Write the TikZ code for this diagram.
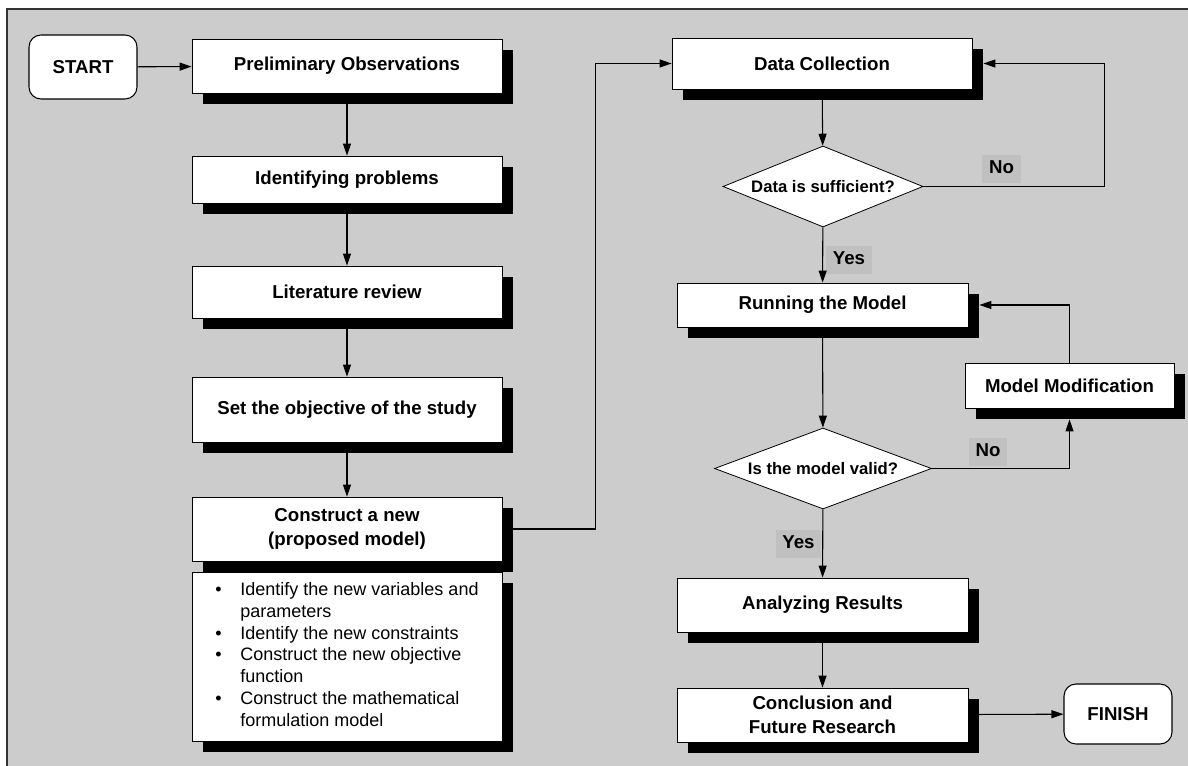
\documentclass[tikz,border=0pt]{standalone}
\usepackage{fontspec}
\setmainfont{Liberation Sans}
\usetikzlibrary{arrows.meta,shapes.geometric,shadows,calc}
\definecolor{fc_back}{RGB}{204, 204, 204}
\definecolor{fc_tag}{RGB}{192, 192, 192}
\tikzstyle{bx}=[rectangle,fill=white,draw=black,line width=0.6pt,
  minimum width=232.5pt,inner sep=3pt,align=center,
  font=\fontsize{14}{18}\selectfont\bfseries,
  drop shadow={shadow xshift=8.25pt,shadow yshift=-8.25pt,fill=black,opacity=1}]
\tikzstyle{ls}=[rectangle,fill=white,draw=black,line width=0.6pt,
  minimum width=232.5pt,minimum height=126.75pt,inner sep=3pt,
  font=\fontsize{13.5}{16.3}\selectfont,
  drop shadow={shadow xshift=8.25pt,shadow yshift=-8.25pt,fill=black,opacity=1}]
\tikzstyle{tm}=[rectangle,rounded corners=9pt,fill=white,draw=black,
  line width=0.8pt,minimum width=81pt,font=\fontsize{14}{18}\selectfont\bfseries]
\tikzstyle{dm}=[diamond,aspect=2.5,fill=white,draw=black,line width=0.6pt,
  inner sep=0pt,minimum height=60.75pt,font=\fontsize{12.5}{15}\selectfont\bfseries]
\tikzstyle{tg}=[fill=fc_tag,inner xsep=5pt,inner ysep=4pt,text height=10pt,
  text depth=3pt,font=\fontsize{14}{18}\selectfont\bfseries]
\tikzstyle{ar}=[line width=0.8pt,-{Triangle[length=9pt,width=6pt]}]
\tikzstyle{none}=[]

\begin{document}
\begin{tikzpicture}[x=0.75pt, y=-0.75pt]
            \useasboundingbox (0, 0) rectangle (1188, 766);
            \draw [fill=fc_back, draw=black!80, line width=1.2pt] (7, 9) rectangle (1200, 780);
            % left column
            \node [style=tm, minimum height=48pt] (0) at (83, 67) {START};
            \node [style=bx, minimum height=40.5pt] (1) at (347, 66) {Preliminary Observations};
            \node [style=bx, minimum height=35.25pt] (2) at (347, 179.5) {Identifying problems};
            \node [style=bx, minimum height=39pt] (3) at (347, 292) {Literature review};
            \node [style=bx, minimum height=48.75pt] (4) at (347, 409.5) {Set the objective of the study};
            \node [style=bx, minimum height=48pt] (5) at (347, 529) {Construct a new\\(proposed model)};
            \node [style=ls] (6) at (347, 656.5) {%
              \begin{tabular}{@{}l@{\hspace{14pt}}l@{}}
                \textbullet & Identify the new variables and\\
                            & parameters\\
                \textbullet & Identify the new constraints\\
                \textbullet & Construct the new objective\\
                            & function\\
                \textbullet & Construct the mathematical\\
                            & formulation model
              \end{tabular}};
            % right column
            \node [style=bx, minimum width=225pt, minimum height=38.25pt] (7) at (822, 63.5) {Data Collection};
            \node [style=dm, minimum width=150pt] (8) at (823, 186.5) {Data is sufficient?};
            \node [style=bx, minimum width=218.25pt, minimum height=33pt] (9) at (822.5, 305) {Running the Model};
            \node [style=bx, minimum width=156.75pt, minimum height=33.75pt] (10) at (1069.5, 385.5) {Model Modification};
            \node [style=dm, minimum width=162.75pt] (11) at (823, 468.5) {Is the model valid?};
            \node [style=bx, minimum width=218.25pt, minimum height=40.5pt] (12) at (822.5, 605) {Analyzing Results};
            \node [style=bx, minimum width=218.25pt, minimum height=40.5pt] (13) at (822.5, 715) {Conclusion and\\Future Research};
            \node [style=tm, minimum height=45pt] (14) at (1118, 714) {FINISH};
            % yes / no tags
            \node [style=tg] (15) at (1001.5, 169) {No};
            \node [style=tg] (16) at (849, 260) {Yes};
            \node [style=tg] (17) at (988, 452) {No};
            \node [style=tg] (18) at (798.5, 544) {Yes};
            % connectors
            \draw [style=ar] (0) to (1);
            \draw [style=ar] (1) to (2);
            \draw [style=ar] (2) to (3);
            \draw [style=ar] (3) to (4);
            \draw [style=ar] (4) to (5);
            \draw [style=ar] (5.east) -- ++(93, 0) |- (7.west);
            \draw [style=ar] (7) to (8);
            \draw [style=ar] (8.east) -- ++(181, 0) |- ($(7.east)+(11, 0)$);
            \draw [style=ar] (8) to (9);
            \draw [style=ar] (9) to (11);
            \draw [style=ar] (11.east) -| ($(10.south)+(0, 11)$);
            \draw [style=ar] (10.north) |- ($(9.east)+(11, 0)$);
            \draw [style=ar] (11) to (12);
            \draw [style=ar] (12) to (13);
            \draw [style=ar] (13) to (14);
    \end{tikzpicture}
\end{document}
